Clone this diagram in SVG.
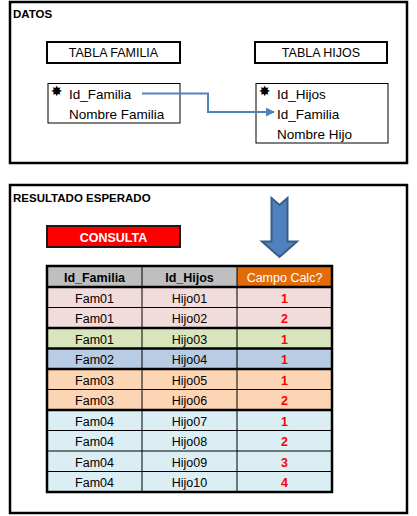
<svg xmlns="http://www.w3.org/2000/svg" width="417" height="516" viewBox="0 0 417 516">
<style>
.frame{fill:none;stroke:#000;stroke-width:2.5}
.tbox{fill:#fff;stroke:#000;stroke-width:2}
.fbox{fill:#fff;stroke:#000;stroke-width:1}
.t{font-family:"Liberation Sans",Arial,sans-serif;font-size:13.5px;fill:#000}
.h{font-family:"Liberation Sans",Arial,sans-serif;font-size:11.5px;font-weight:bold;fill:#000}
.tt{font-family:"Liberation Sans",Arial,sans-serif;font-size:12.5px;fill:#000;text-anchor:middle}
.star{font-family:"DejaVu Sans",sans-serif;font-size:14px;fill:#000;text-anchor:middle}
.c{font-family:"Liberation Sans",Arial,sans-serif;font-size:12.5px;fill:#000;text-anchor:middle}
.hb{font-weight:bold}
.n{font-family:"Liberation Sans",Arial,sans-serif;font-size:12.5px;font-weight:bold;fill:#ff0000;text-anchor:middle}
.thin{stroke:#000;stroke-width:1}
.thick{stroke:#000;stroke-width:2.5}
.conn{fill:none;stroke:#4f81bd;stroke-width:2}
</style>
<defs>
<marker id="ah" viewBox="0 0 10 10" refX="9" refY="5" markerWidth="4.5" markerHeight="4.5" orient="auto" markerUnits="strokeWidth">
<path d="M0,0 L10,5 L0,10 z" fill="#4f81bd"/>
</marker>
</defs>

<g id="datos">
<rect class="frame" x="10" y="2" width="397" height="161"/>
<text class="h" x="13" y="18">DATOS</text>
</g>

<g id="tabla-familia-title">
<rect class="tbox" x="47" y="42" width="133" height="21"/>
<text class="tt" x="113.5" y="57">TABLA FAMILIA</text>
</g>
<g id="tabla-hijos-title">
<rect class="tbox" x="255" y="42" width="132" height="21"/>
<text class="tt" x="321" y="57">TABLA HIJOS</text>
</g>

<g id="tabla-familia">
<rect class="fbox" x="48" y="83.5" width="132" height="39.5"/>
<text class="star" x="56.5" y="96">✸</text>
<text class="t" x="69" y="99">Id_Familia</text>
<text class="t" x="69" y="119">Nombre Familia</text>
</g>

<g id="tabla-hijos">
<rect class="fbox" x="256" y="83.5" width="132" height="59.5"/>
<text class="star" x="264.5" y="96">✸</text>
<text class="t" x="277" y="99">Id_Hijos</text>
<text class="t" x="277" y="119">Id_Familia</text>
<text class="t" x="277" y="139">Nombre Hijo</text>
</g>

<g id="connectors">
<path class="conn" d="M142,93.5 H208 V112 H274" marker-end="url(#ah)"/>
</g>

<g id="resultado">
<rect class="frame" x="10" y="185" width="397" height="328"/>
<text class="h" x="13" y="202">RESULTADO ESPERADO</text>
</g>

<g id="consulta">
<rect x="47" y="226" width="133" height="21" fill="#ff0000" stroke="#1a1a1a" stroke-width="2"/>
<text x="113.5" y="241.5" font-family="Liberation Sans,Arial,sans-serif" font-size="12.5" font-weight="bold" fill="#fff" text-anchor="middle">CONSULTA</text>
</g>

<g id="flecha">
<path d="M271.5,198 L279.5,205 L287.5,198 V241.5 H297 L279.5,257 L262,241.5 H271.5 Z" fill="#4f81bd" stroke="#385d8a" stroke-width="2" stroke-linejoin="miter"/>
</g>

<g id="tabla-resultado">
<rect x="47" y="266" width="95" height="21" fill="#bfbfbf"/>
<rect x="142" y="266" width="95" height="21" fill="#bfbfbf"/>
<rect x="237" y="266" width="95" height="21" fill="#e26b0a"/>
<rect x="47" y="287" width="285" height="41" fill="#f2dcdb"/>
<rect x="47" y="328" width="285" height="20.5" fill="#d8e4bc"/>
<rect x="47" y="348.5" width="285" height="20.5" fill="#b8cce4"/>
<rect x="47" y="369" width="285" height="41" fill="#fcd5b4"/>
<rect x="47" y="410" width="285" height="82" fill="#daeef3"/>

<line class="thin" x1="47" y1="307.5" x2="332" y2="307.5"/>
<line class="thin" x1="47" y1="389.5" x2="332" y2="389.5"/>
<line class="thin" x1="47" y1="430.5" x2="332" y2="430.5"/>
<line class="thin" x1="47" y1="451" x2="332" y2="451"/>
<line class="thin" x1="47" y1="471.5" x2="332" y2="471.5"/>
<line class="thin" x1="142" y1="266" x2="142" y2="492"/>
<line class="thin" x1="237" y1="266" x2="237" y2="492"/>
<line class="thick" x1="47" y1="287" x2="332" y2="287"/>
<line class="thick" x1="47" y1="328" x2="332" y2="328"/>
<line class="thick" x1="47" y1="348.5" x2="332" y2="348.5"/>
<line class="thick" x1="47" y1="369" x2="332" y2="369"/>
<line class="thick" x1="47" y1="410" x2="332" y2="410"/>
<rect x="47" y="266" width="285" height="226" fill="none" stroke="#000" stroke-width="2.5"/>

<text class="c hb" x="94.5" y="282">Id_Familia</text>
<text class="c hb" x="189.5" y="282">Id_Hijos</text>
<text class="c" x="284.5" y="282" style="fill:#fff">Campo Calc?</text>

<text class="c" x="94.5" y="302.5">Fam01</text><text class="c" x="189.5" y="302.5">Hijo01</text><text class="n" x="284.5" y="302.5">1</text>
<text class="c" x="94.5" y="323">Fam01</text><text class="c" x="189.5" y="323">Hijo02</text><text class="n" x="284.5" y="323">2</text>
<text class="c" x="94.5" y="343.5">Fam01</text><text class="c" x="189.5" y="343.5">Hijo03</text><text class="n" x="284.5" y="343.5">1</text>
<text class="c" x="94.5" y="364">Fam02</text><text class="c" x="189.5" y="364">Hijo04</text><text class="n" x="284.5" y="364">1</text>
<text class="c" x="94.5" y="384.5">Fam03</text><text class="c" x="189.5" y="384.5">Hijo05</text><text class="n" x="284.5" y="384.5">1</text>
<text class="c" x="94.5" y="405">Fam03</text><text class="c" x="189.5" y="405">Hijo06</text><text class="n" x="284.5" y="405">2</text>
<text class="c" x="94.5" y="425.5">Fam04</text><text class="c" x="189.5" y="425.5">Hijo07</text><text class="n" x="284.5" y="425.5">1</text>
<text class="c" x="94.5" y="446">Fam04</text><text class="c" x="189.5" y="446">Hijo08</text><text class="n" x="284.5" y="446">2</text>
<text class="c" x="94.5" y="466.5">Fam04</text><text class="c" x="189.5" y="466.5">Hijo09</text><text class="n" x="284.5" y="466.5">3</text>
<text class="c" x="94.5" y="487">Fam04</text><text class="c" x="189.5" y="487">Hijo10</text><text class="n" x="284.5" y="487">4</text>
</g>
</svg>
